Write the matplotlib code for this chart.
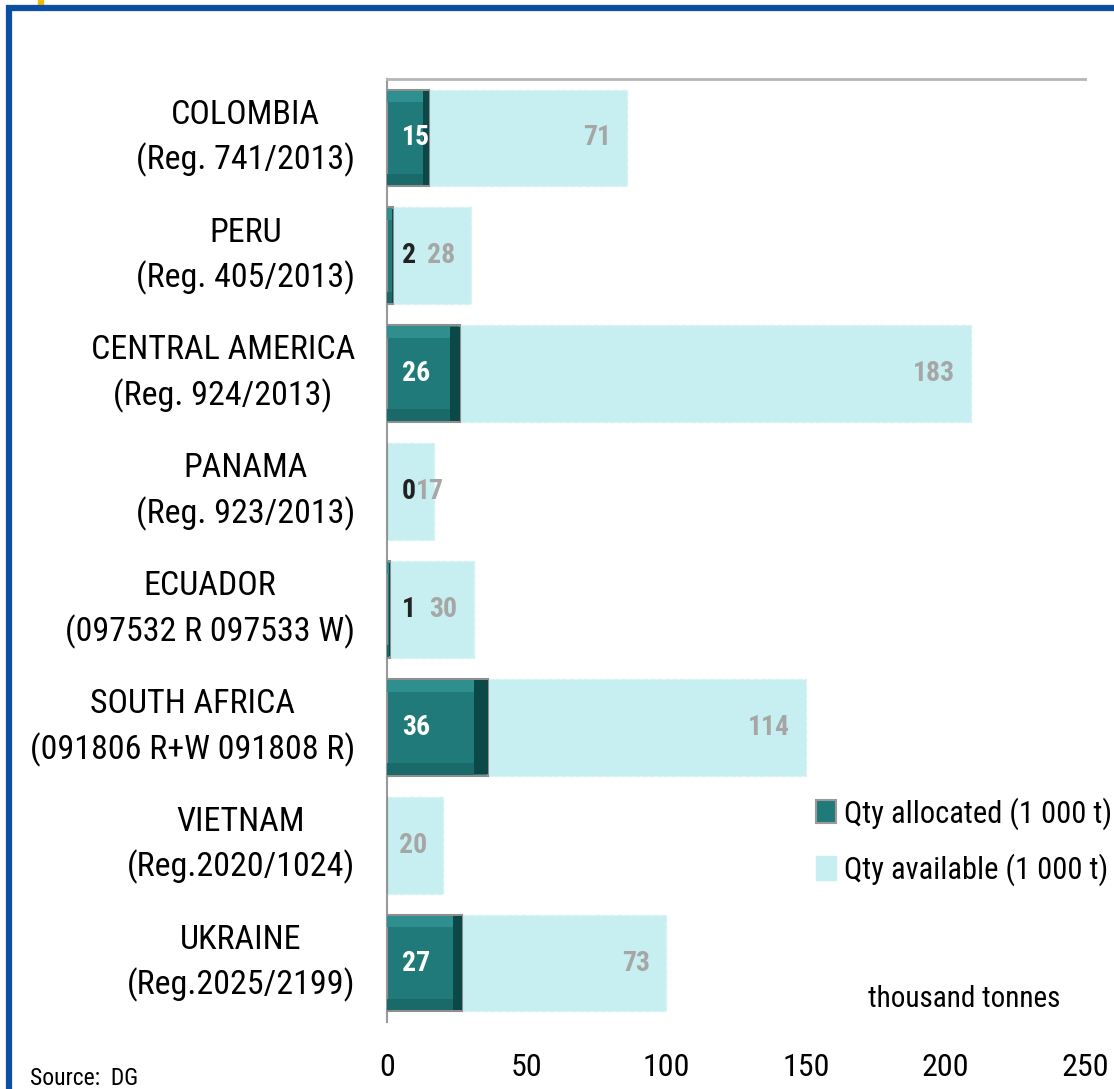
import matplotlib
matplotlib.use("Agg")
import matplotlib.pyplot as plt
from matplotlib.lines import Line2D
from matplotlib.patches import Rectangle
import numpy as np

plt.rcParams['font.family'] = ['Liberation Sans Narrow', 'Roboto Condensed', 'DejaVu Sans']

categories = ["COLOMBIA\n(Reg. 741/2013)", "PERU\n(Reg. 405/2013)",
              "CENTRAL AMERICA\n(Reg. 924/2013)", "PANAMA\n(Reg. 923/2013)",
              "ECUADOR\n(097532 R 097533 W)", "SOUTH AFRICA\n(091806 R+W 091808 R)",
              "VIETNAM\n(Reg.2020/1024)", "UKRAINE\n(Reg.2025/2199)"]
allocated = [15, 2, 26, 0, 1, 36, np.nan, 27]
available = [71, 28, 183, 17, 30, 114, 20, 73]
xticks = [0, 50, 100, 150, 200, 250]
series_names = ["Qty allocated (1 000 t)", "Qty available (1 000 t)"]

W, H = 1114, 1089
fig = plt.figure(figsize=(W/100, H/100), dpi=100)
ax = fig.add_axes([387/W, 1-1022/H, (1085-387)/W, (1022-79)/H])

y = np.arange(len(categories))
alloc = np.nan_to_num(np.array(allocated, dtype=float))
avail = np.array(available, dtype=float)

dark = '#217a7a'
light = '#c7eff1'
bh = 0.82
b1 = ax.barh(y, alloc, height=bh, color=dark, edgecolor='#8f8f8f', linewidth=1.5, zorder=3)
# bevel shading
ax.barh(y, alloc*0.13, left=alloc*0.87, height=bh*0.97, color='#0c4848', linewidth=0, zorder=3.5)
ax.barh(y - bh/2 + bh*0.07, alloc*0.87, height=bh*0.12, left=0, color='#2f8f8f', linewidth=0, zorder=3.4)
ax.barh(y + bh/2 - bh*0.07, alloc*0.87, height=bh*0.12, left=0, color='#1a6a6a', linewidth=0, zorder=3.4)
b2 = ax.barh(y, avail, left=alloc, height=bh, color=light, edgecolor='#d5f2f4',
             linewidth=1, linestyle='--', zorder=2)

ax.set_xlim(0, 250)
ax.set_ylim(len(categories)-0.5, -0.5)
ax.set_xticks(xticks)
ax.set_xticklabels([str(t) for t in xticks], fontsize=23)
ax.tick_params(axis='x', length=0, pad=22)
ax.set_yticks(y)
ax.set_yticklabels([])
ax.tick_params(axis='y', length=0)
for spine in ['right', 'bottom']:
    ax.spines[spine].set_visible(False)
ax.spines['top'].set_color('#b5b5b5')
ax.spines['top'].set_linewidth(2)
ax.spines['left'].set_color('#9a9a9a')
ax.spines['left'].set_linewidth(1.5)

# category labels
for yi, c in zip(y, categories):
    ax.annotate(c, xy=(0, yi), xytext=(-32, 0), textcoords='offset pixels',
                ha='right', va='center', fontsize=24.5, multialignment='center',
                linespacing=1.45, annotation_clip=False)

# value labels
px_per_unit = (1085 - 387) / 250
for yi, a, av, raw in zip(y, alloc, avail, allocated):
    has_alloc = not np.isnan(raw)
    if has_alloc:
        col = 'white' if a >= 10 else '#222222'
        ax.annotate(f"{int(raw)}", xy=(0, yi), xytext=(15, 0), textcoords='offset pixels',
                    ha='left', va='center', fontsize=20, fontweight='bold', color=col, zorder=6)
    if has_alloc and av * px_per_unit < 55:
        ax.annotate(f"{int(av)}", xy=(a, yi), xytext=(29, 0), textcoords='offset pixels',
                    ha='left', va='center', fontsize=20, fontweight='bold', color='#a6a6a6', zorder=5)
    else:
        ax.annotate(f"{int(av)}", xy=(a+av, yi), xytext=(-16, 0), textcoords='offset pixels',
                    ha='right', va='center', fontsize=20, fontweight='bold', color='#a6a6a6', zorder=6)

# legend
h1 = Rectangle((0, 0), 1, 1, facecolor=dark, edgecolor='#9a9a9a', linewidth=1.5)
h2 = Rectangle((0, 0), 1, 1, facecolor=light, edgecolor=light)
fig.legend([h1, h2], series_names, loc='upper left', bbox_to_anchor=(816/W, 1-797/H),
           frameon=False, fontsize=22, handlelength=0.65, handleheight=0.8,
           handletextpad=0.25, labelspacing=0.78, borderpad=0, borderaxespad=0)

fig.text(868/W, 1-1007/H, "thousand tonnes", fontsize=21, ha='left', va='baseline')
fig.text(30/W, 1-1085/H, "Source:  DG", fontsize=17, ha='left', va='baseline')

# frame
blue = '#0b4ea2'
fig.add_artist(Line2D([9/W, 9/W], [0, 1-5/H], color=blue, linewidth=4.5, transform=fig.transFigure,
                      solid_capstyle='butt'))
fig.add_artist(Line2D([6/W, 1], [1-8/H, 1-8/H], color=blue, linewidth=4.5, transform=fig.transFigure,
                      solid_capstyle='butt'))
fig.add_artist(Rectangle((38/W, 1-5/H), 5/W, 5/H, color='#f5b800', transform=fig.transFigure))

fig.savefig("out.png", dpi=100)
